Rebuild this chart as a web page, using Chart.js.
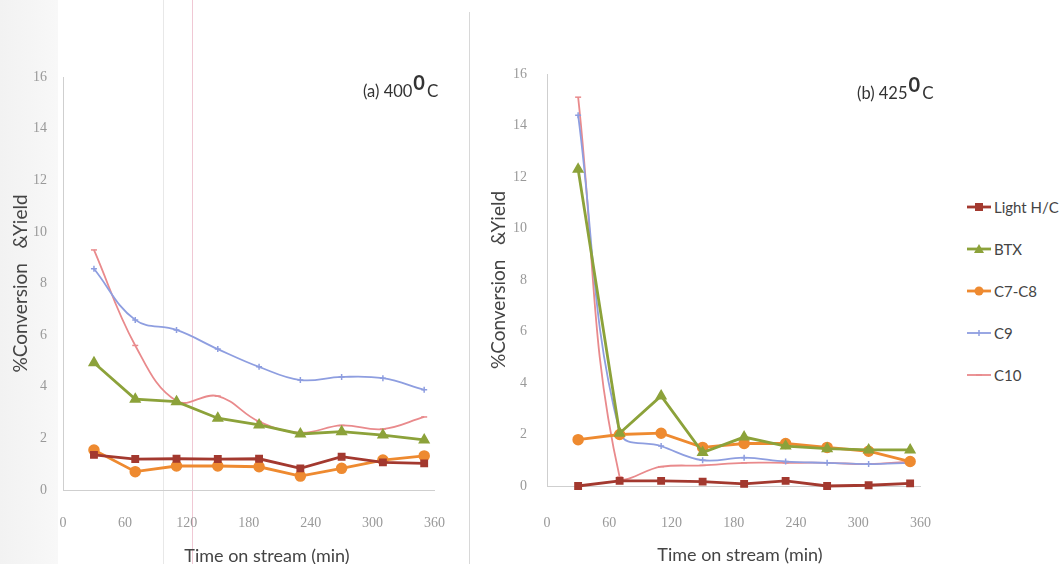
<!doctype html><html lang="en"><head>
<meta charset="UTF-8"><title>Conversion & Yield vs time on stream</title>
<script src="https://cdn.jsdelivr.net/npm/chart.js@4/dist/chart.umd.min.js"></script>
<style>
 body{margin:0;background:#fff;width:1060px;height:564px;overflow:hidden;position:relative;font-family:Lato,"Open Sans",sans-serif}
 canvas{position:absolute;top:0}
 #band{position:absolute;left:0;top:0;width:58px;height:564px;background:linear-gradient(90deg,#f2f2f2,#f8f8f8)}
 .vline{position:absolute;top:0;width:1px;height:564px}
 .tag{position:absolute;font-size:16.5px;color:#333;white-space:nowrap}
 .tag sup{font-size:20px;font-weight:bold;vertical-align:7px;line-height:0;margin-left:1px}
 .tag span{margin-left:2px;font-size:17px}
 .xt{position:absolute;width:240px;margin-left:-120px;text-align:center;font-size:18px;color:#444;line-height:20px}
 .leg{position:absolute;left:966px;height:18px;display:flex;align-items:center;font-size:15px;color:#444;white-space:nowrap}
 .leg svg{margin-right:2px}
</style></head><body>
<div id="band"></div>
<div class="vline" style="left:163px;background:#e8e8e8"></div>
<div class="vline" style="left:192px;background:#f0c8d4"></div>
<div class="vline" style="left:469px;top:12px;background:#d8d8d8"></div>
<canvas id="chartA" width="470" height="564" style="left:0"></canvas>
<canvas id="chartB" width="490" height="564" style="left:470px"></canvas>
<div class="tag" style="left:363px;top:80px">(a) 400<sup>0</sup><span>C</span></div>
<div class="tag" style="left:857px;top:82px">(b) 425<sup>0</sup><span>C</span></div>
<div class="xt" style="left:267px;top:545px">Time on stream (min)</div>
<div class="xt" style="left:740px;top:544px">Time on stream (min)</div>
<div id="legend"></div>

<script>
// ----- data -----
const times   = [30, 70, 110, 150, 190, 230, 270, 310, 350];   // min
const xTicks  = [0, 60, 120, 180, 240, 300, 360];
const yTicks  = [0, 2, 4, 6, 8, 10, 12, 14, 16];
const seriesNames = ['Light H/C', 'BTX', 'C7-C8', 'C9', 'C10'];

// (a) 400 C
const lightA = [1.36, 1.2, 1.21, 1.2, 1.21, 0.84, 1.29, 1.07, 1.03];
const btxA   = [4.93, 3.52, 3.42, 2.78, 2.52, 2.17, 2.26, 2.13, 1.94];
const c78A   = [1.55, 0.71, 0.93, 0.93, 0.9, 0.54, 0.84, 1.16, 1.32];
const c9A    = [8.57, 6.59, 6.2, 5.46, 4.77, 4.26, 4.38, 4.33, 3.88];
const c10A   = [9.3, 5.6, 3.45, 3.64, 2.65, 2.22, 2.5, 2.36, 2.83];

// (b) 425 C
const lightB = [0.0, 0.2, 0.2, 0.17, 0.08, 0.2, 0.0, 0.03, 0.1];
const btxB   = [12.3, 2.05, 3.5, 1.3, 1.9, 1.55, 1.45, 1.4, 1.4];
const c78B   = [1.8, 2.0, 2.05, 1.5, 1.65, 1.65, 1.5, 1.35, 0.95];
const c9B    = [14.4, 2.1, 1.55, 1.0, 1.1, 0.95, 0.9, 0.85, 0.9];
const c10B   = [15.1, 0.35, 0.75, 0.8, 0.9, 0.9, 0.9, 0.85, 0.95];

// ----- styles -----
const styles = [
  {color:'#a3392f', point:'rect',     r:4.5, w:2.8, tension:0},
  {color:'#8ca23a', point:'triangle', r:5.5, w:2.8, tension:0},
  {color:'#ee8a30', point:'circle',   r:5,   w:2.8, tension:0},
  {color:'#8e9ee0', point:'cross',    r:3,   w:1.8, tension:0.4},
  {color:'#e98a8c', point:'line',     r:3,   w:1.8, tension:0.4},
];

function datasets(list){
  return list.map((vals,i)=>({
    label: seriesNames[i],
    data: vals.map((v,k)=>({x:times[k], y:v})),
    borderColor: styles[i].color, backgroundColor: styles[i].color,
    borderWidth: styles[i].w, tension: styles[i].tension,
    pointStyle: styles[i].point, pointRadius: styles[i].r,
    pointBorderWidth: 1.5, pointBorderColor: styles[i].color
  }));
}

const tickFont  = {family:'"Liberation Serif", serif', size:14};
const yTitleFont = {family:'Lato, "Open Sans", sans-serif', size:19};

function makeChart(id, data, lay){
  return new Chart(document.getElementById(id), {
    type:'line',
    data:{datasets:data},
    options:{
      responsive:false, animation:false, clip:false,
      layout:{padding:{left:0, right:lay.right, top:lay.top, bottom:0}},
      plugins:{legend:{display:false}, tooltip:{enabled:false}},
      scales:{
        x:{type:'linear', min:0, max:360,
           afterBuildTicks: s => { s.ticks = xTicks.map(v=>({value:v})); },
           afterFit: s => { s.height = lay.xh; },
           grid:{display:false, drawTicks:false}, border:{color:'#cfcfcf', width:1},
           ticks:{font:tickFont, color:'#999', padding:lay.xpad, maxRotation:0}},
        y:{min:0, max:16,
           afterBuildTicks: s => { s.ticks = yTicks.map(v=>({value:v})); },
           afterFit: s => { s.width = lay.yw; },
           grid:{display:false, drawTicks:false}, border:{color:'#cfcfcf', width:1},
           ticks:{font:tickFont, color:'#999', padding:lay.ypad},
           title:{display:true, text:'%Conversion   &Yield', font:yTitleFont, color:'#444', padding:{top:lay.ytp, bottom:0}}}
      }
    }
  });
}

makeChart('chartA', datasets([lightA, btxA, c78A, c9A, c10A]),
  {right:14, top:77, xh:74, yw:63, xpad:25, ypad:16, ytp:9});
makeChart('chartB', datasets([lightB, btxB, c78B, c9B, c10B]),
  {right:20, top:74, xh:78, yw:77, xpad:29, ypad:20, ytp:17});

// ----- legend (line + marker like the spreadsheet legend) -----
const legTop = [207, 249, 291, 333, 375];
const marker = {
  rect:     c=>`<rect x="9" y="4" width="8" height="8" fill="${c}"/>`,
  triangle: c=>`<polygon points="13,3 18,12 8,12" fill="${c}"/>`,
  circle:   c=>`<circle cx="13" cy="8" r="4.5" fill="${c}"/>`,
  cross:    c=>`<path d="M13 5V11" stroke="${c}" stroke-width="1.5"/>`,
  line:     c=>`<path d="M10 8H16" stroke="${c}" stroke-width="1.5"/>`
};
document.getElementById('legend').innerHTML = seriesNames.map((n,i)=>{
  const s = styles[i];
  return `<div class="leg" style="top:${legTop[i]-9}px"><svg width="26" height="16">
    <path d="M1 8H25" stroke="${s.color}" stroke-width="${s.w}"/>${marker[s.point](s.color)}</svg>${n}</div>`;
}).join('');
</script>
</body></html>
